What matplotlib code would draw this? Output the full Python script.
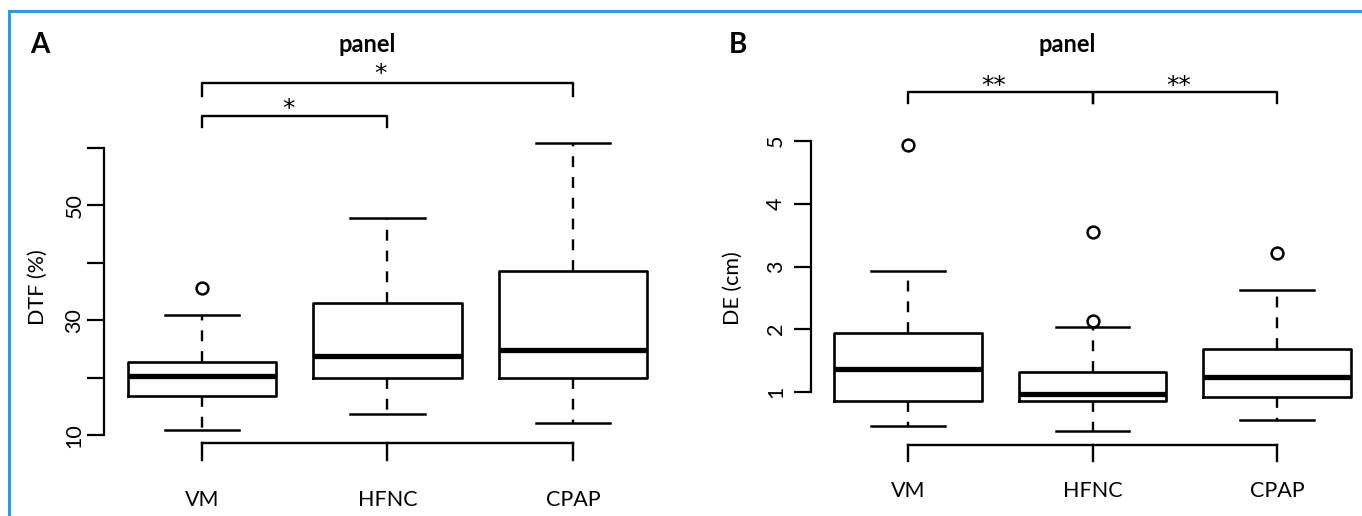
import matplotlib
matplotlib.use("Agg")
import matplotlib.pyplot as plt
from matplotlib.lines import Line2D

plt.rcParams['font.family'] = ['Lato', 'DejaVu Sans']

groups = ["VM", "HFNC", "CPAP"]

# panel A - DTF (%)
dtf_low = [11.0, 13.7, 12.2]
dtf_q1 = [16.9, 20.0, 20.0]
dtf_med = [20.3, 23.8, 24.8]
dtf_q3 = [22.8, 33.0, 38.6]
dtf_high = [31.0, 47.8, 60.8]
dtf_out = [[35.6], [], []]
dtf_ticks = [10, 20, 30, 40, 50, 60]
dtf_ticklabels = ["10", "", "30", "", "50", ""]
dtf_pairs = [(1, 2, "*"), (1, 3, "*")]

# panel B - DE (cm)
de_low = [0.46, 0.38, 0.55]
de_q1 = [0.86, 0.86, 0.92]
de_med = [1.37, 0.97, 1.24]
de_q3 = [1.94, 1.32, 1.69]
de_high = [2.93, 2.04, 2.63]
de_out = [[4.93], [2.13, 3.55], [3.21]]
de_ticks = [1, 2, 3, 4, 5]
de_ticklabels = ["1", "2", "3", "4", "5"]
de_pairs = [(1, 2, "**"), (2, 3, "**")]

W, H = 1362, 516
fig = plt.figure(figsize=(W / 100, H / 100), dpi=100)


def px_axes(left, right, top, bottom):
    return fig.add_axes([left / W, 1 - bottom / H, (right - left) / W, (bottom - top) / H])


def draw_panel(ax, low, q1, med, q3, high, out, ticks, ticklabels, pairs,
               pair_y, pair_drop, star_y, base_y, base_drop, tickpad, xpad):
    stats = []
    for i in range(len(groups)):
        stats.append(dict(whislo=low[i], q1=q1[i], med=med[i], q3=q3[i],
                          whishi=high[i], fliers=out[i]))
    ax.bxp(stats, positions=[1, 2, 3], widths=0.8, showfliers=True,
           boxprops=dict(color="black", linewidth=1.9),
           medianprops=dict(color="black", linewidth=3.8, solid_capstyle="butt"),
           whiskerprops=dict(color="black", linewidth=1.7, linestyle=(0, (4.6, 4.2))),
           capprops=dict(color="black", linewidth=1.8),
           flierprops=dict(marker="o", markerfacecolor="none", markeredgecolor="black",
                           markersize=8.5, markeredgewidth=1.8))
    for s in ["top", "right", "bottom"]:
        ax.spines[s].set_visible(False)
    ax.spines["left"].set_linewidth(1.6)
    ax.spines["left"].set_bounds(ticks[0], ticks[-1])
    ax.set_yticks(ticks)
    ax.set_yticklabels(ticklabels)
    ax.tick_params(axis="y", length=12, width=1.6, pad=tickpad, labelsize=15.5)
    for lab in ax.get_yticklabels():
        lab.set_rotation(90)
        lab.set_va("center")
        lab.set_ha("right")
    ax.set_xticks([1, 2, 3])
    ax.set_xticklabels(groups)
    ax.tick_params(axis="x", length=0, pad=xpad, labelsize=15.5)

    # bracket under all groups
    ax.plot([1, 3], [base_y, base_y], color="black", lw=1.7, clip_on=False)
    for x in [1, 2, 3]:
        ax.plot([x, x], [base_y, base_drop], color="black", lw=1.7, clip_on=False)

    # significance brackets
    for (a, b, lab), y, yd, ys in zip(pairs, pair_y, pair_drop, star_y):
        ax.plot([a, a, b, b], [yd, y, y, yd], color="black", lw=1.7, clip_on=False)
        ax.text((a + b) / 2 - 0.035, ys, lab, ha="center", va="baseline",
                fontsize=18, family="DejaVu Sans")


axA = px_axes(104, 665.7, 136, 447)
axA.set_xlim(0.472, 3.5)
axA.set_ylim(8, 62)
draw_panel(axA, dtf_low, dtf_q1, dtf_med, dtf_q3, dtf_high, dtf_out,
           dtf_ticks, dtf_ticklabels, dtf_pairs,
           [65.47, 71.2], [63.56, 68.9], [65.4, 71.5], 8.7, 5.75, 2, 31)

axB = px_axes(811, 1354.5, 128.45, 442.2)
axB.set_xlim(0.474, 3.42)
axB.set_ylim(0.2, 5.2)
draw_panel(axB, de_low, de_q1, de_med, de_q3, de_high, de_out,
           de_ticks, de_ticklabels, de_pairs,
           [5.78, 5.78], [5.61, 5.61], [5.77, 5.77], 0.155, -0.10, 6, 28)

# titles, letters and axis labels
fig.text(367 / W, 1 - 44 / H, "panel", ha="center", va="center", fontsize=17, fontweight="bold")
fig.text(1067 / W, 1 - 44 / H, "panel", ha="center", va="center", fontsize=17, fontweight="bold")
fig.text(40 / W, 1 - 45 / H, "A", ha="center", va="center", fontsize=20, fontweight="bold")
fig.text(738 / W, 1 - 45 / H, "B", ha="center", va="center", fontsize=20, fontweight="bold")
fig.text(38 / W, 1 - 287 / H, "DTF (%)", ha="center", va="center", rotation=90, fontsize=15.5)
fig.text(733 / W, 1 - 288 / H, "DE (cm)", ha="center", va="center", rotation=90, fontsize=15.5)

# blue frame (top and left edge)
frame = dict(color="#3598d8", lw=2.2, transform=fig.transFigure)
fig.add_artist(Line2D([9 / W, 1], [1 - 11 / H, 1 - 11 / H], **frame))
fig.add_artist(Line2D([9 / W, 9 / W], [0, 1 - 11 / H], **frame))

fig.savefig("out.png", dpi=100)
